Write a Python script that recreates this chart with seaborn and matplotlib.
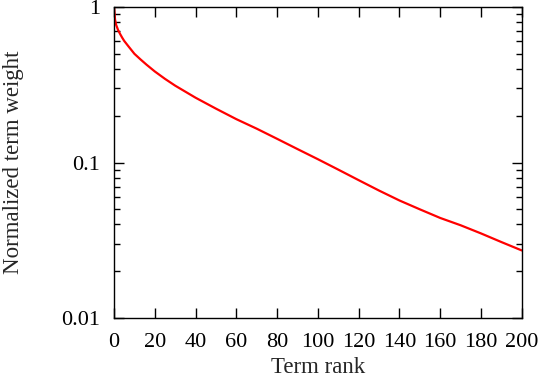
import matplotlib
matplotlib.use("Agg")
import matplotlib.pyplot as plt
import seaborn as sns
import pandas as pd
from matplotlib.ticker import FixedLocator, LogLocator, NullFormatter, FixedFormatter

rank = [0, 0.5, 1, 2, 3, 4, 5, 7, 10, 13, 16, 20, 25, 30, 40, 50, 60, 70, 80,
        90, 100, 110, 120, 130, 140, 150, 160, 170, 180, 190, 200]
weight = [1.0, 0.83, 0.77, 0.71, 0.67, 0.635, 0.605, 0.56, 0.50, 0.46, 0.425,
          0.385, 0.345, 0.312, 0.261, 0.222, 0.190, 0.165, 0.142, 0.122,
          0.105, 0.090, 0.077, 0.066, 0.057, 0.050, 0.044, 0.0395, 0.0350,
          0.0308, 0.0272]
xticks = [0, 20, 40, 60, 80, 100, 120, 140, 160, 180, 200]
yticks = [0.01, 0.1, 1]
ytick_labels = ["0.01", "0.1", "1"]

sns.set_theme(style="ticks")
plt.rcParams["font.family"] = ["Liberation Serif", "DejaVu Serif"]

df = pd.DataFrame({"rank": rank, "weight": weight})

fig = plt.figure(figsize=(5.43, 3.80), dpi=100)
ax = fig.add_axes([0.21, 0.163, 0.751, 0.8186])
sns.lineplot(data=df, x="rank", y="weight", ax=ax, color="#ff0000", linewidth=1.6)
ax.set_yscale("log")
ax.set_xlim(0, 200)
ax.set_ylim(0.01, 1)
ax.xaxis.set_major_locator(FixedLocator(xticks))
ax.yaxis.set_major_locator(FixedLocator(yticks))
ax.yaxis.set_major_formatter(FixedFormatter(ytick_labels))
ax.yaxis.set_minor_locator(LogLocator(base=10, subs=range(2, 10)))
ax.yaxis.set_minor_formatter(NullFormatter())
ax.tick_params(which="both", direction="in", top=True, right=True,
               colors="black", labelsize=16, width=1)
ax.tick_params(which="major", length=7)
ax.tick_params(axis="x", which="major", pad=11)
ax.tick_params(axis="y", which="major", pad=10)
ax.tick_params(which="minor", length=4)
for s in ax.spines.values():
    s.set_color("black")
    s.set_linewidth(1)
ax.set_xlabel("Term rank", fontsize=16.5, labelpad=3)
ax.set_ylabel("Normalized term weight", fontsize=16.5, labelpad=27)
fig.savefig("out.png", dpi=100)
